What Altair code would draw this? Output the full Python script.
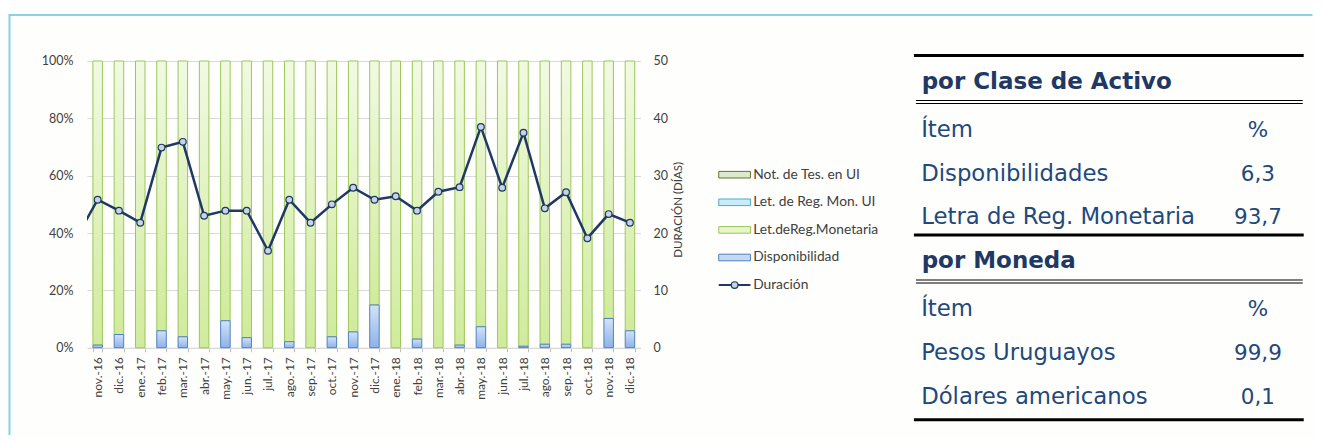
import altair as alt
import pandas as pd

# ---------------- data ----------------
months = ["nov.-16", "dic.-16", "ene.-17", "feb.-17", "mar.-17", "abr.-17", "may.-17",
          "jun.-17", "jul.-17", "ago.-17", "sep.-17", "oct.-17", "nov.-17", "dic.-17",
          "ene.-18", "feb.-18", "mar.-18", "abr.-18", "may.-18", "jun.-18", "jul.-18",
          "ago.-18", "sep.-18", "oct.-18", "nov.-18", "dic.-18"]
disponibilidad = [0.9, 4.6, 0.0, 5.9, 3.8, 0.0, 9.4, 3.5, 0.0, 2.1, 0.0, 3.8, 5.5, 14.9,
                  0.0, 3.0, 0.0, 0.9, 7.3, 0.0, 0.5, 1.2, 1.2, 0.0, 10.2, 5.9]
not_tes_ui = [0.0] * 26
let_reg_mon_ui = [0.0] * 26
duracion = [25.8, 23.9, 21.8, 34.9, 35.9, 23.0, 23.9, 23.9, 16.9, 25.8, 21.8, 25.0, 27.9,
            25.8, 26.4, 23.9, 27.2, 28.0, 38.5, 27.9, 37.5, 24.3, 27.1, 19.1, 23.3, 21.8]
prev_month = "oct.-16"
prev_duracion = 19.2

legend_labels = ["Not. de Tes. en UI", "Let. de Reg. Mon. UI", "Let.deReg.Monetaria",
                 "Disponibilidad", "Duración"]
axis_right_title = "DURACIÓN (DÍAS)"

t1_title = "por Clase de Activo"
t1_items = ["Disponibilidades", "Letra de Reg. Monetaria"]
t1_values = ["6,3", "93,7"]
t2_title = "por Moneda"
t2_items = ["Pesos Uruguayos", "Dólares americanos"]
t2_values = ["99,9", "0,1"]
col_item = "Ítem"
col_pct = "%"

# ---------------- layout / style ----------------
FONT = "Lato"
TFONT = "DejaVu Sans"
W, H = 553.6, 286.7
PX0, PY0 = 86.55, 60.0          # page position of the plot origin


def rx(page_x):
    return page_x - PX0


def ry(page_y):
    return page_y - PY0


TEXT_GRAY = "#404040"
GRID = "#d9d9d9"
NAVY = "#1f3864"
ITEM_BLUE = "#1f497d"

green_grad = alt.LinearGradient(gradient="linear", x1=0, x2=0, y1=0, y2=1,
                                stops=[alt.GradientStop(color="#f1fae2", offset=0),
                                       alt.GradientStop(color="#d0eb9c", offset=1)])
blue_grad = alt.LinearGradient(gradient="linear", x1=0, x2=0, y1=0, y2=1,
                               stops=[alt.GradientStop(color="#d3e2f8", offset=0),
                                      alt.GradientStop(color="#8db2ea", offset=1)])

# ---------------- bars ----------------
bar_df = pd.DataFrame({
    "month": months,
    "disp": [d / 100 for d in disponibilidad],
    "top": [(d + (100 - d) + n + l) / 100 for d, n, l in zip(disponibilidad, not_tes_ui, let_reg_mon_ui)],
})

x_band = alt.X("month:N", sort=months, title=None,
               scale=alt.Scale(paddingInner=0.554, paddingOuter=0.277),
               axis=alt.Axis(labelAngle=270, labelFont=FONT, labelFontSize=12, labelColor=TEXT_GRAY,
                             labelPadding=5, ticks=True, tickBand="extent", tickSize=4,
                             tickColor="#bfbfbf", domainColor=GRID, grid=False))
pct_axis = alt.Axis(format="%", values=[0, 0.2, 0.4, 0.6, 0.8, 1.0], grid=True, gridColor=GRID,
                    domain=False, ticks=False, labelPadding=14, labelFont=FONT, labelFontSize=12.5,
                    labelColor=TEXT_GRAY)
pct_scale = alt.Scale(domain=[0, 1])

green = alt.Chart(bar_df).mark_bar(fill=green_grad, stroke="#9dc65d", strokeWidth=1).encode(
    x=x_band,
    y=alt.Y("top:Q", scale=pct_scale, axis=pct_axis, title=None),
    y2="disp:Q",
)
blue = alt.Chart(bar_df).transform_filter("datum.disp > 0").mark_bar(
    fill=blue_grad, stroke="#4f81bd", strokeWidth=1).encode(
    x=x_band,
    y=alt.Y("disp:Q", scale=pct_scale, axis=pct_axis, title=None),
)
bars = alt.layer(green, blue)

# ---------------- line ----------------
line_df = pd.DataFrame({
    "month": [prev_month] + months,
    "idx": list(range(-1, len(months))),
    "dur": [prev_duracion] + duracion,
})
x_idx = alt.X("idx:Q", scale=alt.Scale(domain=[-0.5, len(months) - 0.5], nice=False, zero=False),
              axis=None)
y_dur = alt.Y("dur:Q", scale=alt.Scale(domain=[0, 50]),
              axis=alt.Axis(orient="right", values=[0, 10, 20, 30, 40, 50], grid=False, domain=False,
                            ticks=False, labelPadding=12.5, labelFont=FONT, labelFontSize=12.5,
                            labelColor=TEXT_GRAY, title=axis_right_title, titleAngle=270,
                            titleX=38, titleY=H / 2 + 5, titleAlign="center", titleBaseline="middle",
                            titleFont=FONT, titleFontSize=11.5, titleFontWeight="normal",
                            titleColor=TEXT_GRAY))
line = alt.Chart(line_df).mark_line(clip=True, color=NAVY, strokeWidth=2.5).encode(x=x_idx, y=y_dur)
pts = alt.Chart(line_df).transform_filter("datum.idx >= 0").mark_circle(
    fill="#c8d3e6", stroke=NAVY, strokeWidth=1.2, size=45, opacity=1).encode(x=x_idx, y=y_dur)
lines = alt.layer(line, pts)

# ---------------- decoration: frame, legend, table ----------------
ident = alt.Scale(domain=[0, 100], range=[0, 100], nice=False, zero=False)

dummy = pd.DataFrame({"a": [0]})
frame_top = alt.Chart(dummy).mark_rule(color="#86d3e7", strokeWidth=2).encode(
    x=alt.value(rx(9)), x2=alt.value(rx(1312)), y=alt.value(ry(14)))
frame_left = alt.Chart(dummy).mark_rule(color="#86d3e7", strokeWidth=2).encode(
    x=alt.value(rx(9)), y=alt.value(ry(13)), y2=alt.value(ry(434)))

LEG_Y0, LEG_STEP = ry(173.7), 27.6
sw_fill = ["#dfe7cf", "#c8ecf9", "#e6f6c8", "#c6d9f3"]
sw_stroke = ["#5f7530", "#4bacc6", "#9dc65d", "#4f81bd"]
leg_df = pd.DataFrame({"label": legend_labels,
                       "py": [LEG_Y0 + i * LEG_STEP for i in range(len(legend_labels))]})
leg_df["y1"] = leg_df["py"] - 3.3
leg_df["y2"] = leg_df["py"] + 3.3
sw = alt.Chart(leg_df.iloc[:4]).mark_rect(strokeWidth=1).encode(
    x=alt.value(rx(718.3)), x2=alt.value(rx(750)),
    y=alt.Y("y1:Q", scale=ident, axis=None), y2="y2:Q",
    fill=alt.Fill("label:N", scale=alt.Scale(domain=legend_labels[:4], range=sw_fill), legend=None),
    stroke=alt.Stroke("label:N", scale=alt.Scale(domain=legend_labels[:4], range=sw_stroke), legend=None),
)
leg_line = alt.Chart(leg_df.iloc[4:]).mark_rule(color=NAVY, strokeWidth=2).encode(
    x=alt.value(rx(718.3)), x2=alt.value(rx(750)), y=alt.Y("py:Q", scale=ident, axis=None))
leg_pt = alt.Chart(leg_df.iloc[4:]).mark_circle(
    fill="#c8d3e6", stroke=NAVY, strokeWidth=1.2, size=45, opacity=1).encode(
    x=alt.value(rx(734.2)), y=alt.Y("py:Q", scale=ident, axis=None))
leg_txt = alt.Chart(leg_df).mark_text(align="left", baseline="middle", font=FONT, fontSize=13.8,
                                      color=TEXT_GRAY).encode(
    x=alt.value(rx(752.7)), y=alt.Y("py:Q", scale=ident, axis=None), text="label:N")

# table layout
TBL_X0, TBL_X1 = rx(913.5), rx(1303.3)
TXT_X = rx(920.7)
VAL_X = rx(1257.5)
sections = [(t1_title, t1_items, t1_values, 54.5), (t2_title, t2_items, t2_values, 234.0)]
TBL_BOTTOM = 418.7

head_rows, body_rows, thick_rows, dbl_rows = [], [], [], []
for title, items, vals, y0 in sections:
    thick_rows.append({"py": ry(y0)})
    head_rows.append({"txt": title, "py": ry(y0 + 33.3)})
    dbl_rows.append({"py": ry(y0 + 46.5)})
    body_rows.append({"txt": col_item, "val": col_pct, "py": ry(y0 + 81.1)})
    for k, (it, v) in enumerate(zip(items, vals)):
        body_rows.append({"txt": it, "val": v, "py": ry(y0 + 125.5 + 43.4 * k)})
thick_rows.append({"py": ry(TBL_BOTTOM)})

head_df = pd.DataFrame(head_rows)
body_df = pd.DataFrame(body_rows)
thick_df = pd.DataFrame(thick_rows)
dbl_df = pd.DataFrame(dbl_rows)

y_id = alt.Y("py:Q", scale=ident, axis=None)
thick = alt.Chart(thick_df).mark_rule(color="#000000", strokeWidth=3).encode(
    x=alt.value(TBL_X0), x2=alt.value(TBL_X1), y=y_id)
dbl_a = alt.Chart(dbl_df).mark_rule(color="#000000", strokeWidth=1.2).encode(
    x=alt.value(TBL_X0 + 2), x2=alt.value(TBL_X1 - 1), y=y_id, yOffset=alt.value(-1.5))
dbl_b = alt.Chart(dbl_df).mark_rule(color="#000000", strokeWidth=1.2).encode(
    x=alt.value(TBL_X0 + 2), x2=alt.value(TBL_X1 - 1), y=y_id, yOffset=alt.value(1.5))
head_txt = alt.Chart(head_df).mark_text(align="left", baseline="alphabetic", font=TFONT, fontSize=23,
                                        fontWeight="bold", color=NAVY).encode(
    x=alt.value(TXT_X + 0.5), y=y_id, text="txt:N")
body_txt = alt.Chart(body_df).mark_text(align="left", baseline="alphabetic", font=TFONT, fontSize=22.8,
                                        color=ITEM_BLUE).encode(
    x=alt.value(TXT_X), y=y_id, text="txt:N")
val_txt = alt.Chart(body_df).mark_text(align="center", baseline="alphabetic", font=TFONT, fontSize=21.5,
                                       color=ITEM_BLUE).encode(
    x=alt.value(VAL_X), y=y_id, text="val:N")

deco = alt.layer(frame_top, frame_left, sw, leg_line, leg_pt, leg_txt,
                 thick, dbl_a, dbl_b, head_txt, body_txt, val_txt)

chart = alt.layer(bars, lines, deco).resolve_scale(
    x="independent", y="independent"
).properties(
    width=W, height=H, background="#fefefc",
    padding={"left": 0, "top": 5, "right": 0, "bottom": 0},
).configure_view(stroke="transparent")

chart.save("out.html", embed_options={"renderer": "svg", "actions": False})
